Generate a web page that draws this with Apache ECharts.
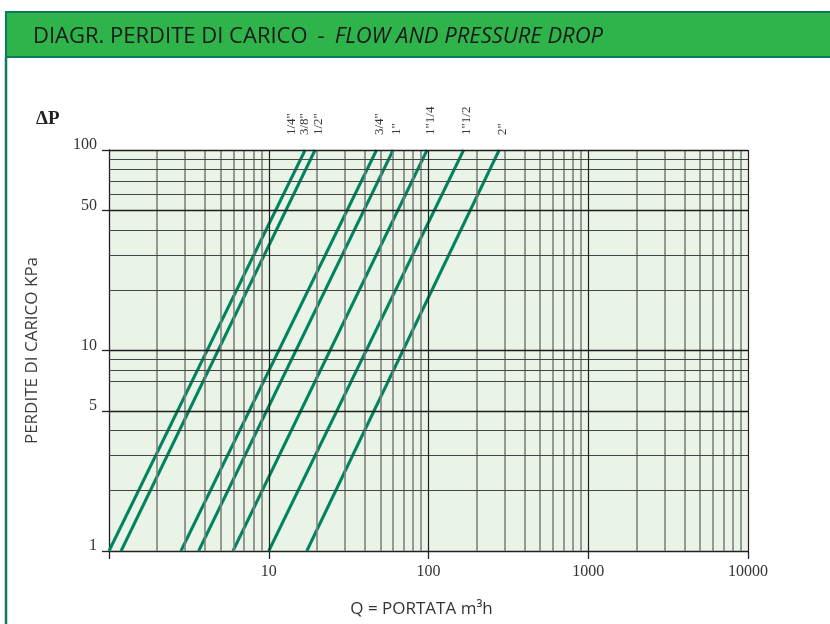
<!DOCTYPE html>
<html>
<head>
<meta charset="utf-8">
<script src="https://cdn.jsdelivr.net/npm/echarts@6/dist/echarts.min.js"></script>
<style>
  html, body { margin: 0; padding: 0; background: #fff; }
  #chart { width: 830px; height: 624px; }
</style>
</head>
<body>
<div id="chart"></div>
<script>
// curve labels (pipe sizes), first curve carries two sizes
var curveLabels = [['1/4"', '3/8"'], ['1/2"'], ['3/4"'], ['1"'], ['1"1/4'], ['1"1/2'], ['2"']];
// flow (m3/h) read where each curve meets 1 kPa and 100 kPa
var flowAt1kPa   = [1.0, 1.19, 2.82, 3.64, 5.97, 10.0, 17.3];
var flowAt100kPa = [16.9, 19.5, 47.3, 60.1, 98, 166, 277];
var pressureEnds = [1, 100];

// axis ticks / labels
var xTickValues  = [1, 10, 100, 1000, 10000];
var xLabelValues = [10, 100, 1000, 10000];
var yTickValues  = [1, 5, 10, 50, 100];

// grid lines of the printed paper
var xGridMajor = [10, 100, 1000, 10000];
var xGridMinor = [2, 3, 4, 5, 6, 7, 8, 9,
                  20, 30, 40, 50, 60, 70, 80, 90,
                  200, 300, 400, 500, 600, 700, 800, 900,
                  2000, 3000, 4000, 5000, 6000, 7000, 8000, 9000];
var yGridMajor = [5, 10, 50, 100];
var yGridMinor = [2, 3, 4, 7, 8, 9, 20, 30, 40, 60, 70, 80, 90];

var chart = echarts.init(document.getElementById('chart'));

function gridLines(vals, key, color, width) {
  return vals.map(function (v) {
    var o = {};
    o[key] = v;
    o.lineStyle = { color: color, width: width, type: 'solid' };
    return o;
  });
}

var series = [{
  type: 'line',
  data: [],
  z: 1,
  silent: true,
  markLine: {
    silent: true,
    symbol: 'none',
    animation: false,
    label: { show: false },
    data: []
      .concat(gridLines(xGridMinor, 'xAxis', '#808080', 1.6))
      .concat(gridLines(yGridMinor, 'yAxis', '#444', 1.2))
      .concat(gridLines(xGridMajor, 'xAxis', '#1e1e1e', 1.2))
      .concat(gridLines(yGridMajor, 'yAxis', '#1e1e1e', 1.3))
  }
}];

for (var i = 0; i < flowAt1kPa.length; i++) {
  var two = curveLabels[i].length > 1;
  series.push({
    name: curveLabels[i].join(' '),
    type: 'line',
    z: 3,
    symbol: 'circle',
    symbolSize: 0,
    showSymbol: true,
    lineStyle: { color: '#00845f', width: 3 },
    data: [
      [flowAt1kPa[i], pressureEnds[0]],
      {
        value: [flowAt100kPa[i], pressureEnds[1]],
        label: {
          show: true,
          formatter: curveLabels[i].join('\n'),
          position: 'top',
          distance: 15,
          rotate: 90,
          align: 'left',
          verticalAlign: 'middle',
          offset: two ? [0, -7] : [0, 3],
          fontFamily: 'Liberation Serif',
          fontSize: 13,
          lineHeight: 13,
          color: '#333'
        }
      }
    ]
  });
}

var option = {
  animation: false,
  backgroundColor: '#fff',
  graphic: [
    { type: 'rect', z: 0, shape: { x: 6, y: 12, width: 840, height: 45 },
      style: { fill: '#2fb34b', stroke: '#0b7b5c', lineWidth: 2 } },
    { type: 'line', z: 0, shape: { x1: 6, y1: 57, x2: 6, y2: 630 },
      style: { stroke: '#0b7b5c', lineWidth: 2.5 } }
  ],
  title: [{
    left: 28, top: 21, z: 10,
    text: '{a|DIAGR. PERDITE DI CARICO}  {a|-}  {b|FLOW AND PRESSURE DROP}',
    textStyle: {
      rich: {
        a: { fontFamily: 'Open Sans, sans-serif', fontWeight: 'normal', fontSize: 22, color: '#1a1a1a' },
        b: { fontFamily: 'Open Sans, sans-serif', fontWeight: 'normal', fontSize: 22, fontStyle: 'italic', color: '#1a1a1a' }
      }
    }
  }, {
    left: 31, top: 105,
    text: 'ΔP',
    textStyle: { fontFamily: 'Liberation Serif', fontWeight: 'bold', fontSize: 19, color: '#222' }
  }],
  grid: {
    left: 109, right: 82, top: 150, bottom: 73,
    show: true, backgroundColor: '#e9f3e6', borderWidth: 0
  },
  xAxis: {
    type: 'log', logBase: 10, min: 1, max: 10000,
    name: 'Q = PORTATA m³h',
    nameLocation: 'middle',
    nameGap: 50,
    nameTextStyle: { fontFamily: 'Open Sans', fontSize: 17, color: '#333', padding: [0, 14, 0, 0] },
    axisLine: { show: true, lineStyle: { color: '#222', width: 1.3 } },
    axisTick: { show: true, length: 8, customValues: xTickValues, lineStyle: { color: '#222', width: 1.3 } },
    axisLabel: {
      customValues: xLabelValues, margin: 13,
      fontFamily: 'Liberation Serif', fontSize: 16, color: '#333',
      formatter: function (v) { return String(v); }
    },
    splitLine: { show: false },
    minorTick: { show: false }
  },
  yAxis: {
    type: 'log', logBase: 10, min: 1, max: 100,
    name: 'PERDITE DI CARICO KPa',
    nameLocation: 'middle',
    nameRotate: 90,
    nameGap: 68,
    nameTextStyle: { fontFamily: 'Open Sans', fontSize: 17, color: '#3a3a3a' },
    axisLine: { show: true, lineStyle: { color: '#222', width: 1.3 } },
    axisTick: { show: true, length: 7, customValues: yTickValues, lineStyle: { color: '#222', width: 1.3 } },
    axisLabel: {
      customValues: yTickValues, margin: 12,
      fontFamily: 'Liberation Serif', fontSize: 16, color: '#333',
      verticalAlign: 'bottom', lineHeight: 10,
      formatter: function (v) { return String(v); }
    },
    splitLine: { show: false }
  },
  series: series
};

chart.setOption(option);
</script>
</body>
</html>
